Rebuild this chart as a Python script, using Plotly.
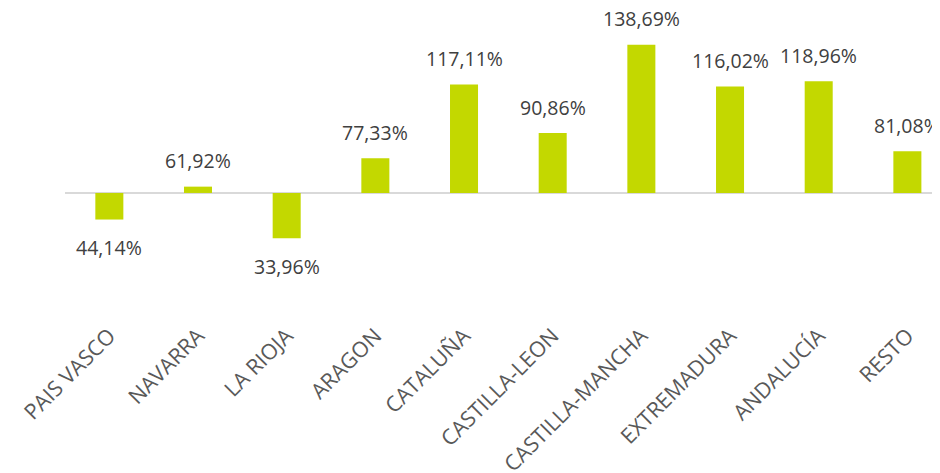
import plotly.graph_objects as go

regions = ["PAIS VASCO", "NAVARRA", "LA RIOJA", "ARAGON", "CATALUÑA",
           "CASTILLA-LEON", "CASTILLA-MANCHA", "EXTREMADURA", "ANDALUCÍA", "RESTO"]
pct = [44.14, 61.92, 33.96, 77.33, 117.11, 90.86, 138.69, 116.02, 118.96, 81.08]
base_line = 58.5  # bars hang from this reference level

labels = [f"{v:.2f}".replace(".", ",") + "%" for v in pct]

fig = go.Figure()
fig.add_trace(go.Bar(
    x=regions, y=[v - base_line for v in pct], base=base_line,
    width=0.316, marker=dict(color="#C3D800", line=dict(width=0)),
    hoverinfo="skip", showlegend=False
))

# value labels, above or below the end of each bar
for r, v, t in zip(regions, pct, labels):
    fig.add_annotation(x=r, y=v, text=t, showarrow=False,
                       yshift=26 if v >= base_line else -28,
                       font=dict(family="Open Sans", size=19.5, color="#404040"))

fig.add_shape(type="line", xref="paper", x0=0, x1=1, y0=base_line, y1=base_line,
              line=dict(color="#D9D9D9", width=2), layer="below")

# page body has an 8px margin, so the figure is sized/offset to compensate
fig.update_layout(
    width=932, height=465,
    paper_bgcolor="white", plot_bgcolor="white",
    margin=dict(l=57, r=0, t=0, b=155),
    xaxis=dict(range=[-0.5, 9.368], showgrid=False, showline=False, zeroline=False,
               tickangle=-45, ticks="", automargin=False,
               tickfont=dict(family="Open Sans", size=21.5, color="#595959")),
    yaxis=dict(range=[-9.1, 158.5], showgrid=False, zeroline=False, automargin=False,
               showticklabels=False, showline=False),
)

fig.write_html("out.html")
